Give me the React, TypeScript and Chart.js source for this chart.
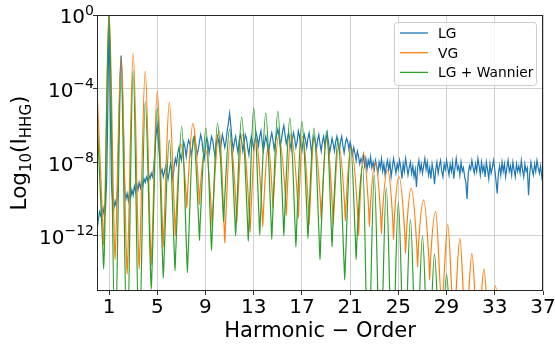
import React, { useEffect, useRef } from "react";
import { Chart, registerables } from "chart.js";

Chart.register(...registerables);

// ---------- data (log10 of HHG intensity) ----------
const xTicks = [1, 5, 9, 13, 17, 21, 25, 29, 33, 37];
const yTicks = [-12, -8, -4, 0];
const seriesLabels = ["LG", "VG", "LG + Wannier"];
const seriesColors = ["#1f77b4", "#ff7f0e", "#2ca02c"];
const xTitle = "Harmonic \u2212 Order";

// LG: sampled every 0.1 harmonic order starting at 0
const lgStart = 0;
const lgStep = 0.1;
const lgLog = [
  -11.7, -11.2, -10.7, -10.9, -10.5, -10.8, -10.4, -10.6, -9.0, -5.0,
  0.2, -5.0, -9.2, -10.2, -10.5, -10.1, -10.4, -9.5, -6.5, -3.5,
  -2.2, -3.5, -6.5, -9.5, -10.0, -9.7, -10.1, -9.6, -9.9, -9.5,
  -9.8, -9.3, -9.6, -9.2, -9.5, -9.1, -9.4, -9.0, -9.3, -8.9,
  -9.1, -8.8, -9.0, -8.7, -8.9, -8.6, -8.8, -8.3, -7.5, -6.5,
  -6.0, -6.9, -7.9, -8.6, -8.4, -8.8, -8.5, -8.2, -8.6, -8.9,
  -8.5, -8.1, -8.4, -8.9, -8.2, -7.8, -8.1, -7.5, -7.2, -7.6,
  -7.9, -7.3, -6.9, -7.2, -7.7, -7.1, -6.8, -7.0, -7.6, -7.3,
  -6.8, -6.6, -7.1, -7.6, -7.3, -6.9, -6.5, -6.8, -7.4, -7.8,
  -7.2, -6.7, -6.9, -7.5, -7.1, -6.6, -6.8, -7.3, -7.7, -7.0,
  -6.6, -6.9, -7.4, -7.0, -6.5, -6.8, -7.2, -6.9, -6.3, -5.9,
  -5.35, -6.0, -6.8, -7.3, -6.9, -6.6, -7.1, -7.5, -6.8, -6.5,
  -6.9, -7.4, -7.0, -6.5, -6.7, -7.2, -7.6, -7.0, -6.6, -6.9,
  -7.3, -6.8, -6.4, -6.7, -7.1, -6.6, -6.3, -6.9, -7.4, -7.0,
  -6.6, -6.9, -7.5, -7.2, -6.7, -6.4, -6.8, -7.3, -6.9, -6.5,
  -6.2, -6.6, -7.1, -6.8, -6.3, -6.0, -6.5, -7.0, -6.7, -6.4,
  -6.9, -7.3, -6.8, -6.4, -6.7, -7.2, -6.9, -6.3, -6.6, -7.1,
  -7.4, -6.9, -6.5, -6.8, -7.2, -6.7, -6.4, -6.9, -7.5, -7.0,
  -6.6, -6.9, -7.3, -6.8, -6.5, -7.0, -7.4, -6.9, -6.6, -7.1,
  -6.8, -6.4, -6.9, -7.5, -7.1, -6.7, -7.0, -7.4, -6.9, -6.6,
  -7.0, -7.4, -6.9, -6.6, -7.1, -7.5, -7.0, -6.7, -6.9, -7.3,
  -6.9, -7.2, -7.6, -7.2, -7.5, -7.9, -7.4, -7.7, -8.1, -7.8,
  -8.0, -7.6, -8.2, -7.8, -8.4, -7.9, -8.2, -7.7, -8.3, -8.0,
  -8.4, -7.9, -8.2, -8.6, -8.0, -8.3, -7.8, -8.5, -8.1, -8.7,
  -8.2, -7.9, -8.4, -8.0, -8.8, -8.3, -7.8, -8.2, -8.6, -8.1,
  -8.4, -7.9, -8.3, -8.9, -8.1, -8.5, -7.8, -8.2, -8.7, -8.3,
  -8.0, -8.6, -8.2, -8.8, -8.4, -9.35, -8.3, -7.9, -8.5, -8.1,
  -8.6, -8.2, -7.8, -8.4, -8.0, -8.7, -8.3, -8.9, -8.1, -8.5,
  -9.2, -8.4, -8.0, -8.6, -8.2, -7.9, -8.5, -8.8, -8.1, -8.4,
  -7.9, -8.3, -8.7, -8.1, -8.5, -8.0, -8.9, -8.3, -7.8, -8.4,
  -8.2, -8.7, -8.0, -8.5, -8.3, -8.8, -9.1, -10.0, -8.6, -8.2,
  -8.4, -7.9, -8.3, -8.6, -8.1, -8.5, -7.8, -8.2, -8.7, -8.0,
  -8.5, -8.2, -8.8, -8.0, -8.4, -8.9, -8.1, -8.6, -8.3, -7.9,
  -8.4, -9.0, -9.7, -8.6, -8.2, -8.7, -8.0, -8.5, -8.1, -8.8,
  -8.3, -7.9, -8.5, -8.2, -8.7, -8.0, -8.4, -8.8, -8.1, -8.5,
  -8.2, -8.6, -7.9, -8.4, -8.8, -8.1, -8.5, -8.3, -9.8, -8.6,
  -8.0, -8.4, -8.7, -8.1, -8.5, -7.9, -8.3, -8.6, -8.2, -8.8,
  -8.4,
];

// VG: [harmonic order, log10 intensity] at lobe peaks and around troughs
const vgPoints: [number, number][] = [
  [0, -4.0],
  [0.49, -11.5], [0.55, -12.5], [0.61, -11.5],
  [1.0, 0.2],
  [1.44, -12.3], [1.5, -13.3], [1.56, -12.3],
  [2.0, -2.3],
  [2.44, -13.1], [2.5, -14.1], [2.56, -13.1],
  [3.0, -2.07],
  [3.44, -12.8], [3.5, -13.8], [3.56, -12.8],
  [4.0, -3.03],
  [4.44, -12.6], [4.5, -13.6], [4.56, -12.6],
  [5.0, -4.15],
  [5.44, -11.6], [5.5, -12.6], [5.56, -11.6],
  [6.0, -4.75],
  [6.44, -11.0], [6.5, -12.0], [6.56, -11.0],
  [6.95, -7.0],
  [7.39, -9.7], [7.45, -10.5], [7.51, -9.7],
  [7.95, -5.9],
  [8.44, -9.5], [8.5, -10.3], [8.56, -9.5],
  [9.0, -7.3],
  [9.49, -10.6], [9.55, -11.5], [9.61, -10.6],
  [10.15, -6.3],
  [10.54, -11.4], [10.6, -12.4], [10.66, -11.4],
  [11.05, -6.8],
  [11.54, -10.4], [11.6, -11.3], [11.66, -10.4],
  [12.05, -6.5],
  [12.64, -10.9], [12.7, -11.8], [12.76, -10.9],
  [13.15, -6.7],
  [13.69, -10.6], [13.75, -11.5], [13.81, -10.6],
  [14.2, -7.06],
  [14.54, -9.7], [14.6, -10.5], [14.66, -9.7],
  [15.05, -6.6],
  [15.64, -10.0], [15.7, -10.9], [15.76, -10.0],
  [16.07, -6.5],
  [16.64, -10.1], [16.7, -11.05], [16.76, -10.1],
  [17.05, -6.6],
  [17.54, -10.5], [17.6, -11.4], [17.66, -10.5],
  [18.0, -6.7],
  [18.54, -10.2], [18.6, -11.1], [18.66, -10.2],
  [19.05, -6.8],
  [19.54, -10.5], [19.6, -11.4], [19.66, -10.5],
  [20.05, -7.1],
  [20.54, -10.3], [20.6, -11.2], [20.66, -10.3],
  [21.05, -7.15],
  [21.64, -11.0], [21.7, -12.0], [21.76, -11.0],
  [22.1, -7.5],
  [22.54, -10.6], [22.6, -11.5], [22.66, -10.6],
  [23.1, -8.0],
  [23.54, -11.0], [23.6, -11.9], [23.66, -11.0],
  [24.1, -8.4],
  [24.54, -11.2], [24.6, -12.2], [24.66, -11.2],
  [25.05, -8.78],
  [25.54, -12.0], [25.6, -12.96], [25.66, -12.0],
  [26.06, -9.42],
  [26.54, -12.7], [26.6, -13.7], [26.66, -12.7],
  [27.1, -10.05],
  [27.54, -13.4], [27.6, -14.4], [27.66, -13.4],
  [28.1, -10.69],
  [28.6, -15.6],
  [29.1, -11.36], [29.6, -16.5], [30.1, -12.14], [30.6, -17.0],
  [31.1, -12.96], [31.6, -17.5], [32.1, -13.8], [32.6, -18.0],
  [33.05, -14.7], [33.6, -18.5], [34.1, -15.6], [37.0, -18.5],
];

// LG + Wannier: [harmonic order, log10 intensity] at lobe peaks and around troughs
const wannierPoints: [number, number][] = [
  [0, -5.6],
  [0.49, -12.8], [0.55, -13.8], [0.61, -12.8],
  [1.0, 0.2],
  [1.5, -18.0],
  [2.0, -3.26],
  [2.5, -18.0],
  [3.0, -3.04],
  [3.5, -18.0],
  [4.0, -4.7],
  [4.44, -13.9], [4.5, -14.9], [4.56, -13.9],
  [5.0, -5.08],
  [5.44, -13.3], [5.5, -14.3], [5.56, -13.3],
  [6.0, -6.8],
  [6.41, -12.9], [6.47, -13.9], [6.53, -12.9],
  [7.03, -6.06],
  [7.44, -13.0], [7.5, -14.0], [7.56, -13.0],
  [8.0, -6.6],
  [8.44, -11.3], [8.5, -12.25], [8.56, -11.3],
  [9.04, -6.15],
  [9.44, -11.8], [9.5, -12.8], [9.56, -11.8],
  [10.0, -5.88],
  [10.44, -10.4], [10.5, -11.25], [10.56, -10.4],
  [11.0, -6.2],
  [11.44, -11.1], [11.5, -12.0], [11.56, -11.1],
  [12.0, -5.55],
  [12.49, -11.3], [12.55, -12.3], [12.61, -11.3],
  [13.0, -5.06],
  [13.44, -11.0], [13.5, -11.96], [13.56, -11.0],
  [14.0, -5.33],
  [14.44, -11.2], [14.5, -12.2], [14.56, -11.2],
  [15.0, -5.24],
  [15.44, -11.0], [15.5, -12.0], [15.56, -11.0],
  [16.0, -5.6],
  [16.44, -11.6], [16.5, -12.6], [16.56, -11.6],
  [17.0, -5.8],
  [17.44, -11.2], [17.5, -12.14], [17.56, -11.2],
  [18.0, -6.15],
  [18.44, -12.3], [18.5, -13.3], [18.56, -12.3],
  [19.05, -6.3],
  [19.44, -11.6], [19.5, -12.6], [19.56, -11.6],
  [20.0, -6.7],
  [20.49, -13.4], [20.55, -14.4], [20.61, -13.4],
  [21.05, -7.15],
  [21.44, -12.3], [21.5, -13.3], [21.56, -12.3],
  [22.05, -8.2],
  [22.5, -19.0], [23.0, -8.7], [23.5, -19.0], [24.0, -9.4], [24.5, -19.0],
  [25.0, -10.2], [25.5, -19.0], [26.0, -11.1], [26.5, -19.0], [27.0, -12.0],
  [27.5, -19.0], [28.0, -13.0], [28.5, -19.0], [29.0, -14.1], [29.5, -19.0],
  [30.0, -15.5], [30.5, -19.0], [37.0, -19.0],
];

const FONT = "'DejaVu Sans', sans-serif";

const overlayPlugin = {
  id: "overlay",
  afterDatasetsDraw(chart: any) {
    const { ctx, chartArea: a } = chart;
    ctx.save();
    ctx.strokeStyle = "#262626";
    ctx.lineWidth = 1;
    ctx.strokeRect(
      Math.round(a.left) + 0.5,
      Math.round(a.top) + 0.5,
      Math.round(a.right - a.left) - 1,
      Math.round(a.bottom - a.top) - 1
    );
    ctx.restore();
  },
  afterDraw(chart: any) {
    const { ctx, chartArea: a, scales } = chart;
    ctx.save();
    ctx.fillStyle = "#000";
    ctx.textBaseline = "alphabetic";

    // x tick labels
    ctx.font = `20px ${FONT}`;
    ctx.textAlign = "center";
    xTicks.forEach((t) => {
      ctx.fillText(String(t), scales.x.getPixelForValue(t), a.bottom + 21.5);
    });

    // x title
    ctx.font = `21px ${FONT}`;
    ctx.fillText(xTitle, (a.left + a.right) / 2, 337);

    // y tick labels 10^n
    ctx.textAlign = "left";
    yTicks.forEach((v) => {
      const y = scales.y.getPixelForValue(v);
      const sup = v === 0 ? "0" : "\u2212" + Math.abs(v);
      ctx.font = `14px ${FONT}`;
      const wSup = ctx.measureText(sup).width;
      ctx.font = `20px ${FONT}`;
      const wMain = ctx.measureText("10").width;
      const right = a.left - 3;
      ctx.fillText("10", right - wSup - wMain, y + 8.3);
      ctx.font = `14px ${FONT}`;
      ctx.fillText(sup, right - wSup, y - 0.5);
    });

    // y title: Log_10(I_HHG)
    const parts: [string, number, number][] = [
      ["Log", 21.5, 0],
      ["10", 15, 4.8],
      ["(I", 21.5, 0],
      ["HHG", 15, 4.8],
      [")", 21.5, 0],
    ];
    ctx.save();
    ctx.translate(25.7, (a.top + a.bottom) / 2);
    ctx.rotate(-Math.PI / 2);
    let total = 0;
    const widths = parts.map(([t, s]) => {
      ctx.font = `${s}px ${FONT}`;
      const w = ctx.measureText(t).width;
      total += w;
      return w;
    });
    let cx = -total / 2;
    parts.forEach(([t, s, dy], i) => {
      ctx.font = `${s}px ${FONT}`;
      ctx.fillText(t, cx, dy);
      cx += widths[i];
    });
    ctx.restore();

    // legend
    const lx = a.right - 148.5;
    const ly = a.top + 7.5;
    const lw = 142;
    const lh = 63;
    ctx.beginPath();
    ctx.roundRect(lx, ly, lw, lh, 3);
    ctx.fillStyle = "rgba(255,255,255,0.8)";
    ctx.fill();
    ctx.strokeStyle = "#cccccc";
    ctx.lineWidth = 1;
    ctx.stroke();
    ctx.font = `13.8px ${FONT}`;
    seriesLabels.forEach((lab, i) => {
      const yy = ly + 10.5 + i * 19.7;
      ctx.strokeStyle = seriesColors[i];
      ctx.lineWidth = 1.3;
      ctx.beginPath();
      ctx.moveTo(lx + 5.5, yy);
      ctx.lineTo(lx + 33.5, yy);
      ctx.stroke();
      ctx.fillStyle = "#000";
      ctx.fillText(lab, lx + 43.5, yy + 4.9);
    });
    ctx.restore();
  },
};

export default function App() {
  const ref = useRef<HTMLCanvasElement>(null);

  useEffect(() => {
    if (!ref.current) return;
    const lgData = lgLog.map((v, i) => ({ x: lgStart + i * lgStep, y: v }));
    const vgData = vgPoints.map(([x, y]) => ({ x, y }));
    const wData = wannierPoints.map(([x, y]) => ({ x, y }));
    const chart = new Chart(ref.current, {
      type: "line",
      data: {
        datasets: [
          {
            label: seriesLabels[0],
            data: lgData,
            borderColor: seriesColors[0],
            borderWidth: 1.2,
            pointRadius: 0,
            tension: 0,
            order: 3,
            clip: 0,
          },
          {
            label: seriesLabels[1],
            data: vgData,
            borderColor: seriesColors[1],
            borderWidth: 1.2,
            pointRadius: 0,
            cubicInterpolationMode: "monotone",
            order: 2,
            clip: 0,
          },
          {
            label: seriesLabels[2],
            data: wData,
            borderColor: seriesColors[2],
            borderWidth: 1.2,
            pointRadius: 0,
            cubicInterpolationMode: "monotone",
            order: 1,
            clip: 0,
          },
        ],
      },
      options: {
        responsive: false,
        devicePixelRatio: 1,
        animation: false,
        layout: { padding: { top: 15, right: 12, left: 0, bottom: 0 } },
        plugins: { legend: { display: false }, tooltip: { enabled: false } },
        scales: {
          x: {
            type: "linear",
            min: 0,
            max: 37,
            afterBuildTicks: (s: any) => {
              s.ticks = xTicks.map((v) => ({ value: v }));
            },
            afterFit: (s: any) => {
              s.height = 56;
            },
            ticks: { display: false },
            grid: {
              color: "#d0d0d0",
              lineWidth: 1,
              drawTicks: true,
              tickLength: 4,
              tickColor: "#333",
            },
            border: { display: false },
          },
          y: {
            type: "linear",
            min: -15,
            max: 0,
            afterBuildTicks: (s: any) => {
              s.ticks = yTicks.map((v) => ({ value: v }));
            },
            afterFit: (s: any) => {
              s.width = 97;
            },
            ticks: { display: false },
            grid: {
              color: "#d0d0d0",
              lineWidth: 1,
              drawTicks: true,
              tickLength: 4,
              tickColor: "#333",
            },
            border: { display: false },
          },
        },
      },
      plugins: [overlayPlugin],
    });
    return () => chart.destroy();
  }, []);

  return (
    <div style={{ position: "fixed", left: 0, top: 0, width: 555, height: 347, background: "#fff" }}>
      <canvas ref={ref} width={555} height={347} style={{ display: "block", width: 555, height: 347 }} />
    </div>
  );
}
